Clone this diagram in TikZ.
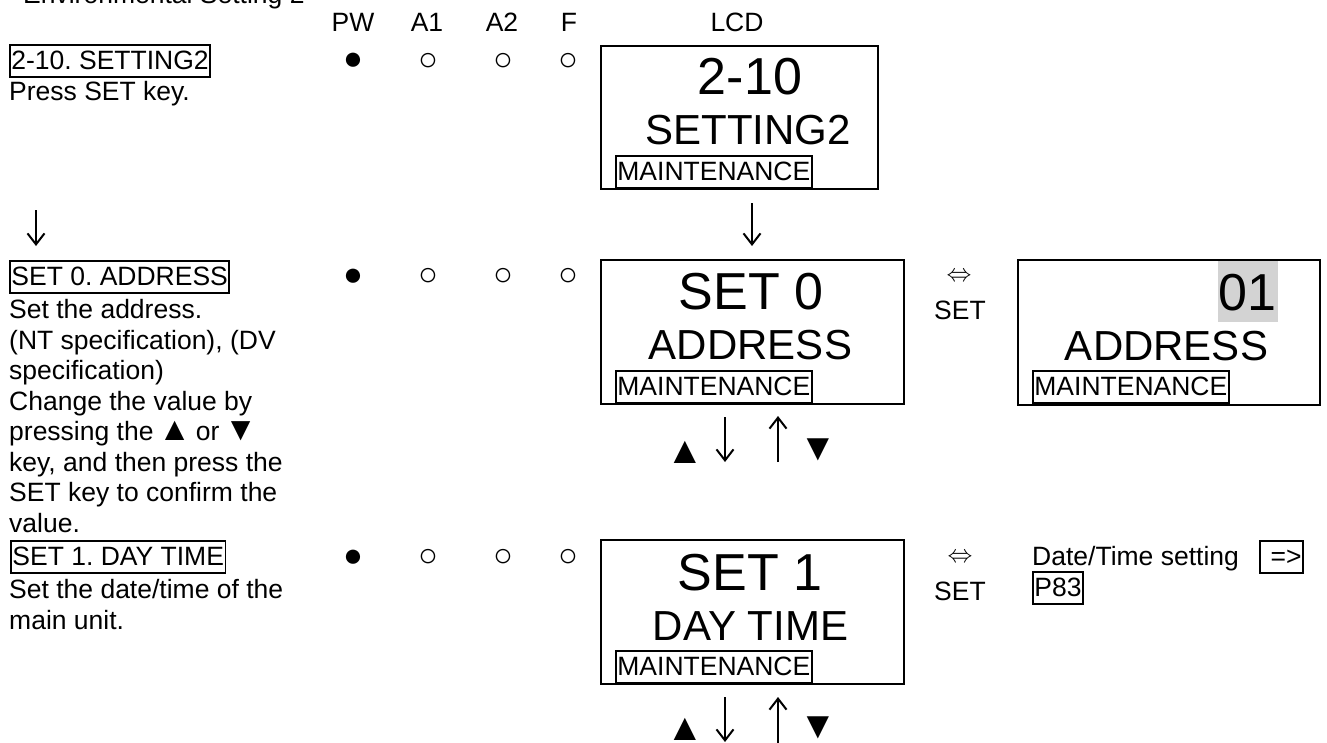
\documentclass[tikz,border=0pt]{standalone}
\usepackage{fontspec}
\setmainfont{Liberation Sans}
\usetikzlibrary{arrows.meta}
\definecolor{hlgray}{RGB}{211,211,211}
\newcommand{\tri}[1]{{\fontsize{33}{30.5}\selectfont\kern-2.5pt #1\kern-2.5pt}}
\frenchspacing
\begin{document}
\begin{tikzpicture}[x=1pt,y=-1pt,
  every node/.style={inner sep=0pt},
  body/.style={font=\fontsize{26.5}{30.5}\selectfont},
  para/.style={body, align=left, anchor=north west},
  tbox/.style={draw, line width=1.8pt, font=\fontsize{26.5}{30.5}\selectfont,
    text height=23pt, text depth=6pt, inner xsep=1.5pt, inner ysep=1.5pt},
  lcd/.style={draw, line width=2pt, anchor=north west},
  big/.style={font=\fontsize{52}{60}\selectfont, anchor=base},
  mid/.style={font=\fontsize{42}{48}\selectfont, anchor=base},
  lamp/.style={font=\fontsize{33}{36}\selectfont, anchor=center},
  keytri/.style={font=\fontsize{38}{40}\selectfont, anchor=center},
  arr/.style={line width=2pt, -{Straight Barb[length=11pt,width=17pt]}},
  swap/.style={font=\fontsize{27}{30}\selectfont, anchor=center}]
\useasboundingbox (0,0) rectangle (1327,742);
\clip (0,0) rectangle (1327,742);

% page title (cut off at the top edge, as in the reference)
\node[body, anchor=base west] (title) at (23,3) {Environmental Setting 2};

% header
\node[body, anchor=base] (hpw) at (353,31) {PW};
\node[body, anchor=base] (ha1) at (427,31) {A1};
\node[body, anchor=base] (ha2) at (502,31) {A2};
\node[body, anchor=base] (hf)  at (569,31) {F};
\node[body, anchor=base] (hlcd) at (737,31) {LCD};

% ---------- row 1 ----------
\node[tbox, anchor=base west] (r1t) at (9,69.5) {2-10. SETTING2};
\node[para] (r1d) at (9,79) {\strut Press SET key.};
\node[lamp] (r1pw) at (353,61.7) {●};
\node[lamp] (r1a1) at (428,61.7) {○};
\node[lamp] (r1a2) at (503,61.7) {○};
\node[lamp] (r1f)  at (568,61.7) {○};
\node[lcd, minimum width=277pt, minimum height=143pt] (lcd1) at (600,45) {};
\node[big] (lcd1a) at (750,94) {2-10};
\node[mid] (lcd1b) at (748,144) {SETTING2};
\node[tbox, anchor=base west] (lcd1m) at (615,180.5) {MAINTENANCE};

% arrows to row 2
\coordinate (la1) at (36,210);
\coordinate (la2) at (36,246);
\draw[arr] (la1) -- (la2);
\coordinate (ca1) at (752,203);
\coordinate (ca2) at (752,246);
\draw[arr] (ca1) -- (ca2);

% ---------- row 2 ----------
\node[tbox, anchor=base west] (r2t) at (9,285.5) {SET 0. ADDRESS};
\node[para] (r2d) at (9,297.2) {\strut Set the address.\\(NT specification), (DV\\specification)\\Change the value by\\pressing the \tri{▲} or \tri{▼}\\key, and then press the\\SET key to confirm the\\value.};
\node[lamp] (r2pw) at (353,277) {●};
\node[lamp] (r2a1) at (428,277) {○};
\node[lamp] (r2a2) at (503,277) {○};
\node[lamp] (r2f)  at (568,277) {○};
\node[lcd, minimum width=303pt, minimum height=144pt] (lcd2) at (600,259) {};
\node[big] (lcd2a) at (751,309) {SET 0};
\node[mid] (lcd2b) at (750.5,359) {ADDRESS};
\node[tbox, anchor=base west] (lcd2m) at (615,395.5) {MAINTENANCE};

\node[swap] (sw2) at (959,277) {$\Leftrightarrow$};
\node[body, anchor=base] (set2) at (960,319) {SET};

\node[lcd, minimum width=302pt, minimum height=145pt] (lcd3) at (1017,259) {};
\fill[hlgray] (1218,261) rectangle (1278,322);
\node[big] (lcd3a) at (1247.5,310) {01};
\node[mid] (lcd3b) at (1166.5,360) {ADDRESS};
\node[tbox, anchor=base west] (lcd3m) at (1032,395.5) {MAINTENANCE};

\node[keytri] (up2) at (685,452) {▲};
\coordinate (d2a) at (725,417);
\coordinate (d2b) at (725,462);
\draw[arr] (d2a) -- (d2b);
\coordinate (u2a) at (778,462);
\coordinate (u2b) at (778,416);
\draw[arr] (u2a) -- (u2b);
\node[keytri] (dn2) at (818,450) {▼};

% ---------- row 3 ----------
\node[tbox, anchor=base west] (r3t) at (10,565.5) {SET 1. DAY TIME};
\node[para] (r3d) at (9,577.2) {\strut Set the date/time of the\\main unit.};
\node[lamp] (r3pw) at (353,558) {●};
\node[lamp] (r3a1) at (428,558) {○};
\node[lamp] (r3a2) at (503,558) {○};
\node[lamp] (r3f)  at (568,558) {○};
\node[lcd, minimum width=303pt, minimum height=144pt] (lcd4) at (600,539) {};
\node[big] (lcd4a) at (750,590) {SET 1};
\node[mid] (lcd4b) at (750.5,640) {DAY TIME};
\node[tbox, anchor=base west] (lcd4m) at (615,675.5) {MAINTENANCE};

\node[swap] (sw3) at (960,558) {$\Leftrightarrow$};
\node[body, anchor=base] (set3) at (960,600) {SET};
\node[body, anchor=base west] (dts) at (1032,565) {Date/Time setting};
\node[tbox, anchor=base east] (ref1) at (1304,565.5) {\hspace{9pt}=>};
\node[tbox, anchor=base west] (ref2) at (1032,596.5) {P83\hspace{10pt}};

\node[keytri] (up3) at (685,729) {▲};
\coordinate (d3a) at (725,697);
\coordinate (d3b) at (725,742);
\draw[arr] (d3a) -- (d3b);
\coordinate (u3a) at (778,745);
\coordinate (u3b) at (778,697);
\draw[arr] (u3a) -- (u3b);
\node[keytri] (dn3) at (818,728) {▼};
\end{tikzpicture}
\end{document}
